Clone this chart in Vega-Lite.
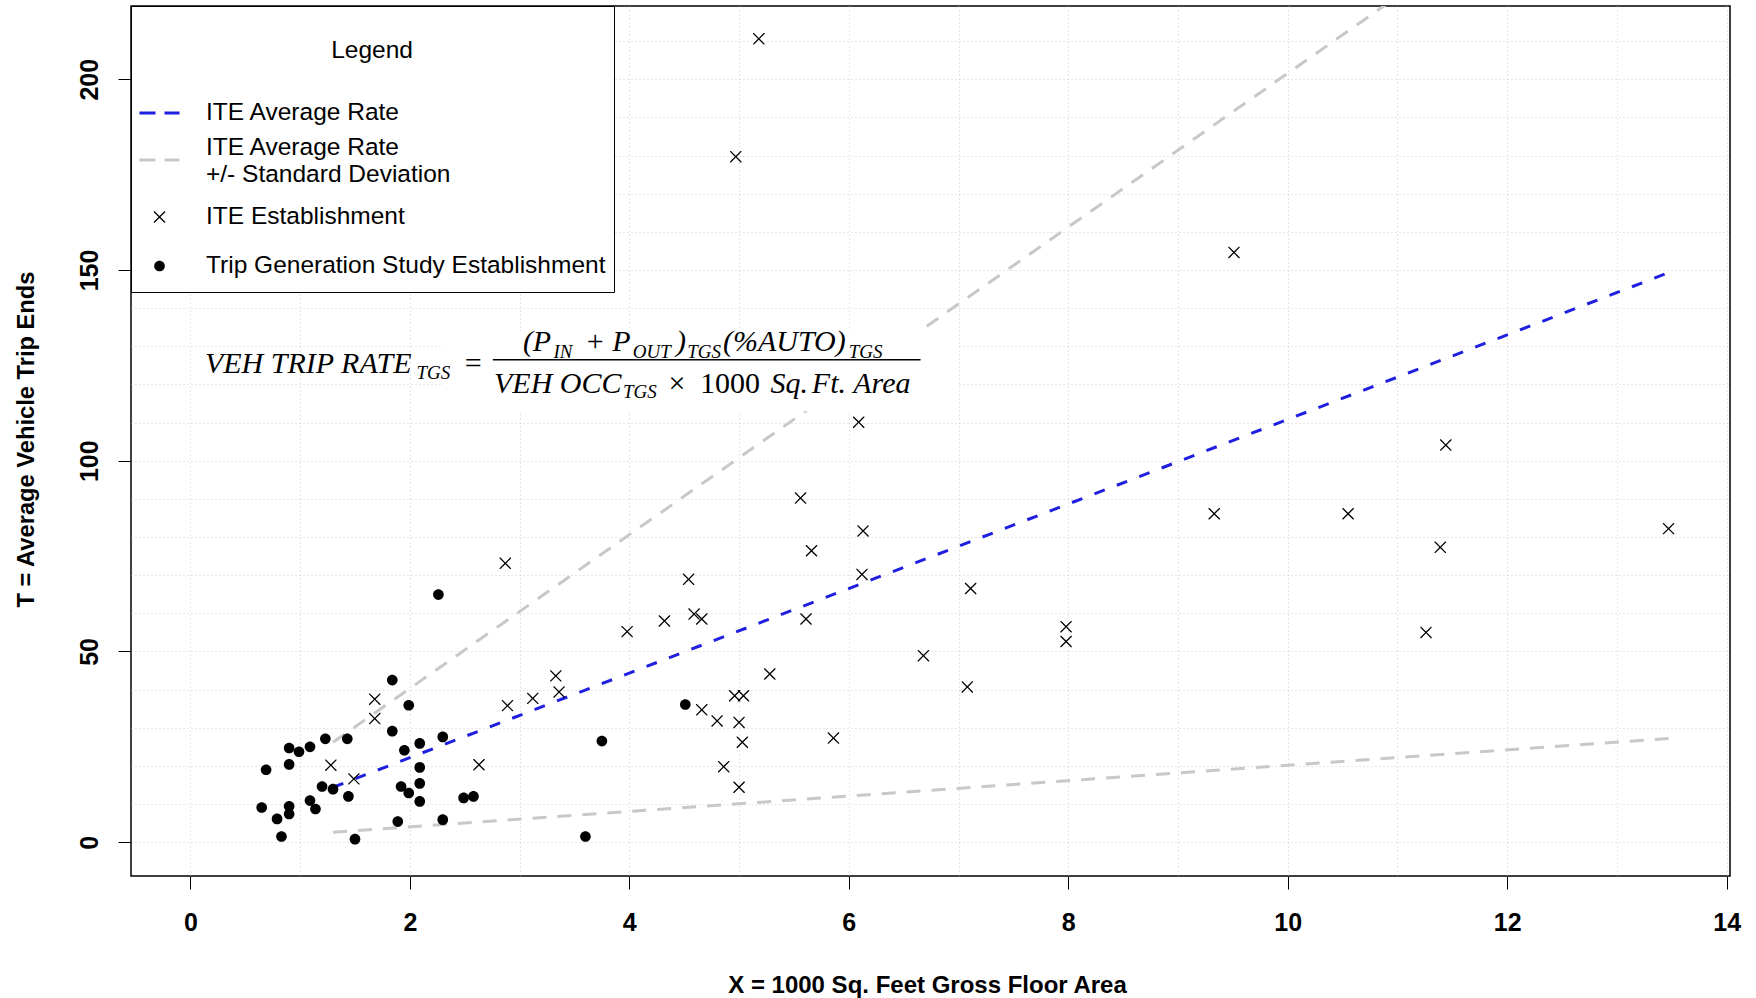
{
  "$schema": "https://vega.github.io/schema/vega-lite/v6.json",
  "width": 1599,
  "height": 870,
  "autosize": {"type": "none"},
  "padding": {"left": 131, "top": 6, "right": 26, "bottom": 122},
  "background": "white",
  "config": {
    "view": {"stroke": "black", "strokeWidth": 1.5},
    "font": "Liberation Sans"
  },
  "datasets": {
    "points": [
      {"x": 5.18, "y": 210.6, "series": "ITE Establishment"},
      {"x": 4.97, "y": 179.7, "series": "ITE Establishment"},
      {"x": 9.51, "y": 154.6, "series": "ITE Establishment"},
      {"x": 6.09, "y": 110.1, "series": "ITE Establishment"},
      {"x": 11.44, "y": 104.1, "series": "ITE Establishment"},
      {"x": 5.56, "y": 90.2, "series": "ITE Establishment"},
      {"x": 9.33, "y": 86.1, "series": "ITE Establishment"},
      {"x": 10.55, "y": 86.1, "series": "ITE Establishment"},
      {"x": 6.13, "y": 81.6, "series": "ITE Establishment"},
      {"x": 13.47, "y": 82.2, "series": "ITE Establishment"},
      {"x": 5.66, "y": 76.4, "series": "ITE Establishment"},
      {"x": 11.39, "y": 77.3, "series": "ITE Establishment"},
      {"x": 2.87, "y": 73.1, "series": "ITE Establishment"},
      {"x": 4.54, "y": 68.9, "series": "ITE Establishment"},
      {"x": 6.12, "y": 70.2, "series": "ITE Establishment"},
      {"x": 7.11, "y": 66.5, "series": "ITE Establishment"},
      {"x": 4.59, "y": 59.8, "series": "ITE Establishment"},
      {"x": 4.66, "y": 58.5, "series": "ITE Establishment"},
      {"x": 4.32, "y": 58.0, "series": "ITE Establishment"},
      {"x": 5.61, "y": 58.5, "series": "ITE Establishment"},
      {"x": 3.98, "y": 55.2, "series": "ITE Establishment"},
      {"x": 7.98, "y": 56.5, "series": "ITE Establishment"},
      {"x": 7.98, "y": 52.6, "series": "ITE Establishment"},
      {"x": 11.26, "y": 55.0, "series": "ITE Establishment"},
      {"x": 6.68, "y": 48.9, "series": "ITE Establishment"},
      {"x": 3.33, "y": 43.6, "series": "ITE Establishment"},
      {"x": 5.28, "y": 44.1, "series": "ITE Establishment"},
      {"x": 3.36, "y": 39.4, "series": "ITE Establishment"},
      {"x": 7.08, "y": 40.7, "series": "ITE Establishment"},
      {"x": 3.12, "y": 37.7, "series": "ITE Establishment"},
      {"x": 4.96, "y": 38.4, "series": "ITE Establishment"},
      {"x": 5.04, "y": 38.4, "series": "ITE Establishment"},
      {"x": 2.89, "y": 35.8, "series": "ITE Establishment"},
      {"x": 1.68, "y": 37.5, "series": "ITE Establishment"},
      {"x": 1.68, "y": 32.4, "series": "ITE Establishment"},
      {"x": 4.66, "y": 34.7, "series": "ITE Establishment"},
      {"x": 4.80, "y": 31.8, "series": "ITE Establishment"},
      {"x": 5.00, "y": 31.4, "series": "ITE Establishment"},
      {"x": 5.03, "y": 26.2, "series": "ITE Establishment"},
      {"x": 4.86, "y": 19.8, "series": "ITE Establishment"},
      {"x": 5.00, "y": 14.4, "series": "ITE Establishment"},
      {"x": 5.86, "y": 27.3, "series": "ITE Establishment"},
      {"x": 2.63, "y": 20.3, "series": "ITE Establishment"},
      {"x": 1.28, "y": 20.2, "series": "ITE Establishment"},
      {"x": 1.49, "y": 16.6, "series": "ITE Establishment"},
      {"x": 1.84, "y": 42.5, "series": "Trip Generation Study Establishment"},
      {"x": 1.99, "y": 35.9, "series": "Trip Generation Study Establishment"},
      {"x": 1.84, "y": 29.1, "series": "Trip Generation Study Establishment"},
      {"x": 1.23, "y": 27.1, "series": "Trip Generation Study Establishment"},
      {"x": 1.43, "y": 27.1, "series": "Trip Generation Study Establishment"},
      {"x": 2.30, "y": 27.6, "series": "Trip Generation Study Establishment"},
      {"x": 0.90, "y": 24.7, "series": "Trip Generation Study Establishment"},
      {"x": 0.99, "y": 23.7, "series": "Trip Generation Study Establishment"},
      {"x": 1.09, "y": 25.0, "series": "Trip Generation Study Establishment"},
      {"x": 2.09, "y": 25.9, "series": "Trip Generation Study Establishment"},
      {"x": 1.95, "y": 24.1, "series": "Trip Generation Study Establishment"},
      {"x": 0.69, "y": 19.0, "series": "Trip Generation Study Establishment"},
      {"x": 0.90, "y": 20.4, "series": "Trip Generation Study Establishment"},
      {"x": 2.09, "y": 19.6, "series": "Trip Generation Study Establishment"},
      {"x": 2.09, "y": 15.4, "series": "Trip Generation Study Establishment"},
      {"x": 1.20, "y": 14.6, "series": "Trip Generation Study Establishment"},
      {"x": 1.30, "y": 13.9, "series": "Trip Generation Study Establishment"},
      {"x": 1.92, "y": 14.6, "series": "Trip Generation Study Establishment"},
      {"x": 1.99, "y": 12.9, "series": "Trip Generation Study Establishment"},
      {"x": 1.44, "y": 12.0, "series": "Trip Generation Study Establishment"},
      {"x": 1.09, "y": 10.9, "series": "Trip Generation Study Establishment"},
      {"x": 1.14, "y": 8.7, "series": "Trip Generation Study Establishment"},
      {"x": 2.09, "y": 10.7, "series": "Trip Generation Study Establishment"},
      {"x": 2.49, "y": 11.6, "series": "Trip Generation Study Establishment"},
      {"x": 2.58, "y": 12.0, "series": "Trip Generation Study Establishment"},
      {"x": 0.65, "y": 9.1, "series": "Trip Generation Study Establishment"},
      {"x": 0.90, "y": 9.4, "series": "Trip Generation Study Establishment"},
      {"x": 0.90, "y": 7.4, "series": "Trip Generation Study Establishment"},
      {"x": 0.79, "y": 6.1, "series": "Trip Generation Study Establishment"},
      {"x": 2.30, "y": 5.9, "series": "Trip Generation Study Establishment"},
      {"x": 1.89, "y": 5.4, "series": "Trip Generation Study Establishment"},
      {"x": 0.83, "y": 1.5, "series": "Trip Generation Study Establishment"},
      {"x": 1.50, "y": 0.8, "series": "Trip Generation Study Establishment"},
      {"x": 3.60, "y": 1.5, "series": "Trip Generation Study Establishment"},
      {"x": 3.75, "y": 26.5, "series": "Trip Generation Study Establishment"},
      {"x": 4.51, "y": 36.1, "series": "Trip Generation Study Establishment"},
      {"x": 2.26, "y": 64.9, "series": "Trip Generation Study Establishment"}
    ],
    "avg": [{"x": 1.3, "y": 14.4}, {"x": 13.47, "y": 149.3}],
    "upper": [{"x": 1.3, "y": 26.2}, {"x": 13.47, "y": 271.5}],
    "lower": [{"x": 1.3, "y": 2.6}, {"x": 13.47, "y": 27.2}],
    "formulaBg": [{"x": 2.3, "x2": 7.0, "y": 113.0, "y2": 134.0}],
    "formulaMain": [
      {"t": "VEH TRIP RATE", "x": 0.133, "y": 123.0},
      {"t": "(P", "x": 3.03, "y": 128.74},
      {"t": "P", "x": 3.844, "y": 128.74},
      {"t": ")", "x": 4.425, "y": 128.74},
      {"t": "(%AUTO)", "x": 4.853, "y": 128.74},
      {"t": "VEH OCC", "x": 2.767, "y": 117.88},
      {"t": "Sq.", "x": 5.286, "y": 117.88},
      {"t": "Ft.", "x": 5.663, "y": 117.88},
      {"t": "Area", "x": 6.041, "y": 117.88}
    ],
    "formulaUpright": [
      {"t": "=", "x": 2.5, "y": 123.0},
      {"t": "+", "x": 3.612, "y": 128.74},
      {"t": "×", "x": 4.357, "y": 117.88},
      {"t": "1000", "x": 4.643, "y": 117.88}
    ],
    "formulaSub": [
      {"t": "TGS", "x": 2.061, "y": 121.4},
      {"t": "IN", "x": 3.309, "y": 126.93},
      {"t": "OUT", "x": 4.031, "y": 126.93},
      {"t": "TGS", "x": 4.527, "y": 126.93},
      {"t": "TGS", "x": 6.0, "y": 126.93},
      {"t": "TGS", "x": 3.942, "y": 116.52}
    ],
    "formulaBar": [{"x": 2.756, "x2": 6.654, "y": 126.48}]
  },
  "layer": [
    {
      "data": {"name": "upper"},
      "mark": {"type": "line", "stroke": "#c8c8c8", "strokeWidth": 3, "strokeDash": [14, 11], "clip": true},
      "encoding": {
        "x": {"field": "x", "type": "quantitative"},
        "y": {"field": "y", "type": "quantitative"}
      }
    },
    {
      "data": {"name": "lower"},
      "mark": {"type": "line", "stroke": "#c8c8c8", "strokeWidth": 3, "strokeDash": [14, 11], "clip": true},
      "encoding": {
        "x": {"field": "x", "type": "quantitative"},
        "y": {"field": "y", "type": "quantitative"}
      }
    },
    {
      "data": {"name": "avg"},
      "mark": {"type": "line", "stroke": "#1f1fe0", "strokeWidth": 3, "strokeDash": [11, 13], "clip": true},
      "encoding": {
        "x": {"field": "x", "type": "quantitative"},
        "y": {"field": "y", "type": "quantitative"}
      }
    },
    {
      "data": {"name": "formulaBg"},
      "mark": {"type": "rect", "fill": "white"},
      "encoding": {
        "x": {"field": "x", "type": "quantitative"},
        "x2": {"field": "x2"},
        "y": {"field": "y", "type": "quantitative"},
        "y2": {"field": "y2"}
      }
    },
    {
      "data": {"name": "points"},
      "mark": {"type": "point", "filled": true, "size": 1681, "strokeWidth": 0, "opacity": 1},
      "encoding": {
        "x": {
          "field": "x", "type": "quantitative",
          "scale": {"domain": [-0.541, 14.03], "nice": false, "zero": false},
          "axis": {
            "values": [0, 1, 2, 3, 4, 5, 6, 7, 8, 9, 10, 11, 12, 13, 14],
            "format": "d",
            "labelExpr": "datum.value % 2 === 0 ? datum.label : ''",
            "tickOpacity": {"condition": {"test": "datum.value % 2 === 0", "value": 1}, "value": 0},
            "tickSize": 13, "tickColor": "black", "tickWidth": 1,
            "domain": false,
            "grid": true, "gridColor": "#cccccc", "gridDash": [1, 3], "gridWidth": 1,
            "labelFont": "Liberation Sans", "labelFontWeight": "bold", "labelFontSize": 25, "labelColor": "black",
            "labelPadding": 21, "labelFlush": false, "labelOverlap": false,
            "title": "X = 1000 Sq. Feet Gross Floor Area",
            "titleFont": "Liberation Sans", "titleFontWeight": "bold", "titleFontSize": 24, "titleColor": "black",
            "titleX": 796, "titleY": 116, "titleAlign": "center", "titleBaseline": "alphabetic"
          }
        },
        "y": {
          "field": "y", "type": "quantitative",
          "scale": {"domain": [-8.86, 219.2], "nice": false, "zero": false},
          "axis": {
            "values": [0, 10, 20, 30, 40, 50, 60, 70, 80, 90, 100, 110, 120, 130, 140, 150, 160, 170, 180, 190, 200, 210],
            "format": "d",
            "labelExpr": "datum.value % 50 === 0 ? datum.label : ''",
            "tickOpacity": {"condition": {"test": "datum.value % 50 === 0", "value": 1}, "value": 0},
            "tickSize": 13, "tickColor": "black", "tickWidth": 1,
            "domain": false,
            "grid": true, "gridColor": "#cccccc", "gridDash": [1, 3], "gridWidth": 1,
            "labelFont": "Liberation Sans", "labelFontWeight": "bold", "labelFontSize": 25, "labelColor": "black",
            "labelAngle": 270, "labelAlign": "center", "labelBaseline": "bottom", "labelPadding": 16,
            "labelFlush": false, "labelOverlap": false,
            "title": "T = Average Vehicle Trip Ends",
            "titleFont": "Liberation Sans", "titleFontWeight": "bold", "titleFontSize": 23.7, "titleColor": "black",
            "titleAngle": 270, "titleX": -98, "titleY": 433, "titleAlign": "center", "titleBaseline": "alphabetic"
          }
        },
        "color": {
          "field": "series", "type": "nominal",
          "scale": {
            "domain": ["ITE Average Rate", "ITE Average Rate +/- Standard Deviation", "ITE Establishment", "Trip Generation Study Establishment"],
            "range": ["#1f1fe0", "#c8c8c8", "#000000", "#000000"]
          },
          "legend": {
            "title": ["", "Legend"],
            "orient": "top-left", "offset": 0, "padding": 8,
            "fillColor": "white", "strokeColor": "black",
            "titleFont": "Liberation Sans", "titleFontSize": 24.5, "titleFontWeight": "normal", "titleColor": "black",
            "titleAnchor": "middle", "titleLineHeight": 25, "titlePadding": 29, "titleLimit": 0,
            "labelFont": "Liberation Sans", "labelFontSize": 24.5, "labelColor": "black", "labelLimit": 0, "labelOffset": 26,
            "labelExpr": "datum.label === 'ITE Average Rate +/- Standard Deviation' ? ['ITE Average Rate', '+/- Standard Deviation'] : datum.label",
            "symbolSize": 1681, "symbolStrokeWidth": 0, "symbolOffset": 0, "rowPadding": 0
          }
        },
        "shape": {
          "field": "series", "type": "nominal",
          "scale": {
            "domain": ["ITE Average Rate", "ITE Average Rate +/- Standard Deviation", "ITE Establishment", "Trip Generation Study Establishment"],
            "range": [
              "M-0.976,-0.068H-0.195V0.068H-0.976ZM0.244,-0.068H0.976V0.068H0.244ZM0,-1.207M0,0.67",
              "M-0.976,0.517H-0.195V0.653H-0.976ZM0.244,0.517H0.976V0.653H0.244ZM0,-0.5M0,2.085",
              "M-0.28,-0.28L-0.235,-0.28L0,-0.045L0.235,-0.28L0.28,-0.28L0.28,-0.235L0.045,0L0.28,0.235L0.28,0.28L0.235,0.28L0,0.045L-0.235,0.28L-0.28,0.28L-0.28,0.235L-0.045,0L-0.28,-0.235ZM0,-1.207M0,1.146",
              "M0.26,0A0.26,0.26,0,1,1,-0.26,0A0.26,0.26,0,1,1,0.26,0ZM0,-1.207M0,0.866"
            ]
          },
          "legend": {
            "title": ["", "Legend"],
            "orient": "top-left", "offset": 0, "padding": 8,
            "fillColor": "white", "strokeColor": "black",
            "titleFont": "Liberation Sans", "titleFontSize": 24.5, "titleFontWeight": "normal", "titleColor": "black",
            "titleAnchor": "middle", "titleLineHeight": 25, "titlePadding": 29, "titleLimit": 0,
            "labelFont": "Liberation Sans", "labelFontSize": 24.5, "labelColor": "black", "labelLimit": 0, "labelOffset": 26,
            "labelExpr": "datum.label === 'ITE Average Rate +/- Standard Deviation' ? ['ITE Average Rate', '+/- Standard Deviation'] : datum.label",
            "symbolSize": 1681, "symbolStrokeWidth": 0, "symbolOffset": 0, "rowPadding": 0
          }
        }
      }
    },
    {
      "data": {"name": "formulaBar"},
      "mark": {"type": "rule", "stroke": "black", "strokeWidth": 1.5},
      "encoding": {
        "x": {"field": "x", "type": "quantitative"},
        "x2": {"field": "x2"},
        "y": {"field": "y", "type": "quantitative"}
      }
    },
    {
      "data": {"name": "formulaMain"},
      "mark": {"type": "text", "font": "Liberation Serif", "fontStyle": "italic", "fontSize": 30, "align": "left", "baseline": "alphabetic", "color": "black"},
      "encoding": {
        "x": {"field": "x", "type": "quantitative"},
        "y": {"field": "y", "type": "quantitative"},
        "text": {"field": "t"}
      }
    },
    {
      "data": {"name": "formulaUpright"},
      "mark": {"type": "text", "font": "Liberation Serif", "fontSize": 30, "align": "left", "baseline": "alphabetic", "color": "black"},
      "encoding": {
        "x": {"field": "x", "type": "quantitative"},
        "y": {"field": "y", "type": "quantitative"},
        "text": {"field": "t"}
      }
    },
    {
      "data": {"name": "formulaSub"},
      "mark": {"type": "text", "font": "Liberation Serif", "fontStyle": "italic", "fontSize": 19, "align": "left", "baseline": "alphabetic", "color": "black"},
      "encoding": {
        "x": {"field": "x", "type": "quantitative"},
        "y": {"field": "y", "type": "quantitative"},
        "text": {"field": "t"}
      }
    }
  ]
}
